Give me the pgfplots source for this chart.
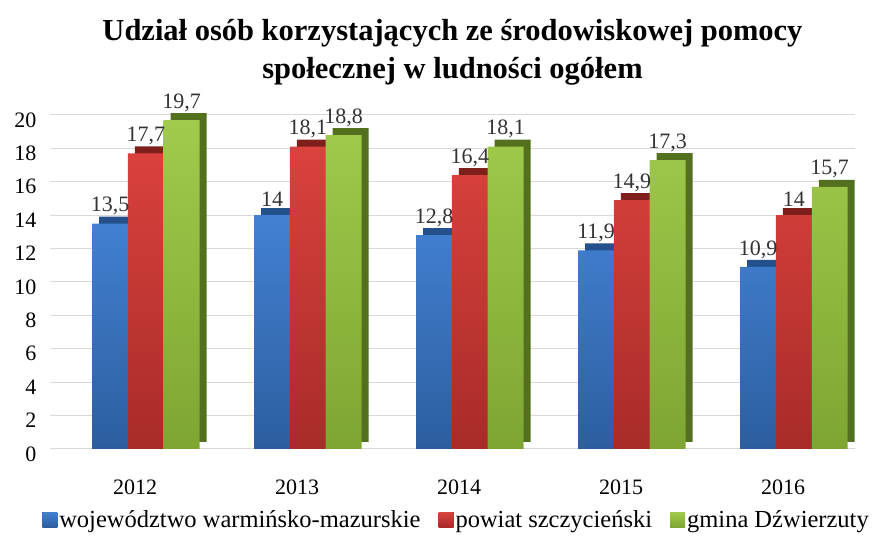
\documentclass[border=0pt]{standalone}
\usepackage{pgfplots}
\pgfplotsset{compat=1.18}
\usepackage{fontspec}
\setmainfont{Liberation Serif}

\definecolor{blueTop}{HTML}{4381D3}
\definecolor{blueBot}{HTML}{2C5E9F}
\definecolor{blueSide}{HTML}{24508C}
\definecolor{redTop}{HTML}{DA423D}
\definecolor{redBot}{HTML}{A82B28}
\definecolor{redSide}{HTML}{7F1F1C}
\definecolor{greenTop}{HTML}{A0CB4C}
\definecolor{greenBot}{HTML}{7EA532}
\definecolor{greenSide}{HTML}{52701D}
\definecolor{gridgray}{HTML}{D9D9D9}

\pgfplotstableread{
x blue red green
0 13.5 17.7 19.7
1 14   18.1 18.8
2 12.8 16.4 18.1
3 11.9 14.9 17.3
4 10.9 14   15.7
}\udzial

\begin{document}
\begin{tikzpicture}
\useasboundingbox (0,0) rectangle (879pt,536pt);
\begin{axis}[
  at={(50pt,87pt)}, anchor=south west,
  scale only axis,
  width=805pt,
  height=334pt,
  ybar,
  bar width=0.222,
  xmin=-0.525, xmax=4.444,
  ymin=0, ymax=20,
  ytick={0,2,...,20},
  xtick={0,1,2,3,4},
  xticklabels={2012,2013,2014,2015,2016},
  axis x line=bottom,
  axis y line=left,
  x axis line style={draw=gridgray, line width=1pt, -},
  y axis line style={draw=none},
  major tick length=0pt,
  ymajorgrids,
  grid style={gridgray, line width=1pt},
  clip=false,
  /pgf/number format/assume math mode=true,
  /pgf/number format/use comma,
  tick label style={font=\fontsize{22}{26}\selectfont},
  yticklabel style={xshift=-10pt, yshift=-5pt},
  xticklabel style={yshift=-27pt},
  title={Udział osób korzystających ze środowiskowej pomocy\\społecznej w ludności ogółem},
  title style={font=\bfseries\fontsize{30.5}{38}\selectfont, align=center, yshift=20pt},
  legend style={at={(0.505,-0.213)}, anchor=center, draw=none, legend columns=-1,
    font=\fontsize{24.5}{28}\selectfont,
    /tikz/every even column/.append style={column sep=16pt}},
  legend image code/.code={\fill[#1] (0pt,-7pt) rectangle (15pt,8pt);},
  every node near coord/.append style={font=\fontsize{22}{26}\selectfont, color=black!80, yshift=5pt},
]
% dark side faces (drawn first, shifted back-right)
\addplot[forget plot, draw=none, fill=blueSide, bar shift=-0.154, xshift=7pt, yshift=7pt] table[x=x, y=blue] {\udzial};
\addplot[draw=none, top color=blueTop, bottom color=blueBot, bar shift=-0.154,
  nodes near coords] table[x=x, y=blue] {\udzial};
\addplot[forget plot, draw=none, fill=redSide, bar shift=0.067, xshift=7pt, yshift=7pt] table[x=x, y=red] {\udzial};
\addplot[draw=none, top color=redTop, bottom color=redBot, bar shift=0.067,
  nodes near coords] table[x=x, y=red] {\udzial};
\addplot[forget plot, draw=none, fill=greenSide, bar shift=0.288, xshift=7pt, yshift=7pt] table[x=x, y=green] {\udzial};
\addplot[draw=none, top color=greenTop, bottom color=greenBot, bar shift=0.288,
  nodes near coords] table[x=x, y=green] {\udzial};
\legend{województwo warmińsko-mazurskie, powiat szczycieński, gmina Dźwierzuty}
\end{axis}
\end{tikzpicture}
\end{document}
